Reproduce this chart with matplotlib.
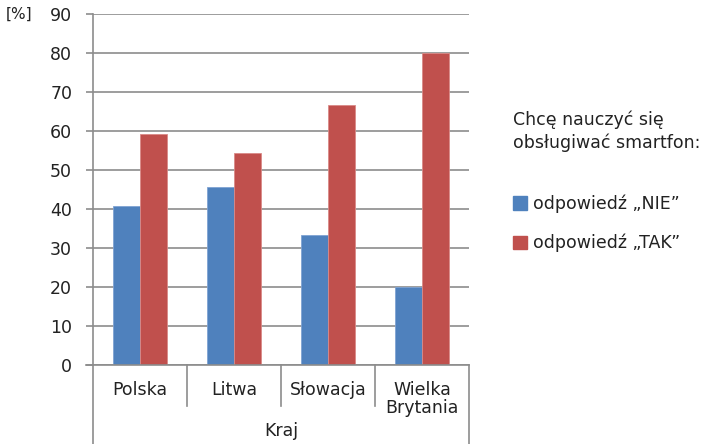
import numpy as np
import matplotlib
matplotlib.use('Agg')
import matplotlib.pyplot as plt
import matplotlib.transforms as mtransforms
from matplotlib.patches import Patch

# --- data ---
countries = ['Polska', 'Litwa', 'Słowacja', 'Wielka\nBrytania']
nie = [40.7, 45.6, 33.3, 20.0]
tak = [59.3, 54.4, 66.7, 80.0]
yticks = [0, 10, 20, 30, 40, 50, 60, 70, 80, 90]

blue = '#4F81BD'
red = '#C0504D'
grey = '#8C8C8C'

plt.rcParams['font.family'] = ['DejaVu Sans']
plt.rcParams['font.size'] = 12.5

fig = plt.figure(figsize=(7.06, 4.44), dpi=100)
ax = fig.add_axes([93 / 706, 1 - 365 / 444, 376 / 706, 351 / 444])

x = np.arange(len(countries))
w = 2 / 7
ax.bar(x - w / 2, nie, w, color=blue, edgecolor='#7FA3D3', linewidth=0.6, zorder=3)
ax.bar(x + w / 2, tak, w, color=red, edgecolor='#DA8A88', linewidth=0.6, zorder=3)

ax.set_xlim(-0.5, len(countries) - 0.5)
ax.set_ylim(0, 90)
ax.set_yticks(yticks)
ax.yaxis.grid(True, color=grey, linewidth=1.2, zorder=0)
ax.tick_params(axis='y', length=5, width=1.2, color=grey, pad=10, labelcolor='#222222')
ax.set_xticks([])
for s in ['top', 'right', 'bottom']:
    ax.spines[s].set_visible(False)
ax.spines['left'].set_color(grey)
ax.spines['left'].set_linewidth(1.2)

# category axis drawn by hand (two-level axis)
trans = mtransforms.blended_transform_factory(ax.transData, ax.transAxes)
ax.plot([-0.5 - 0.075, len(countries) - 0.5], [0, 0], transform=trans, color=grey,
        linewidth=1.2, clip_on=False, zorder=4)
for b in [0.5, 1.5, 2.5]:
    ax.plot([b, b], [0, -0.117], transform=trans, color=grey, linewidth=1.2, clip_on=False)
for b in [-0.5, len(countries) - 0.5]:
    ax.plot([b, b], [0, -0.3], transform=trans, color=grey, linewidth=1.2, clip_on=False)
for i, c in enumerate(countries):
    ax.text(i, -0.045, c, transform=trans, ha='center', va='top', color='#222222',
            linespacing=1.05)
ax.text(0.5, -0.188, 'Kraj', transform=ax.transAxes, ha='center', va='center', color='#222222')

fig.text(6 / 706, 1 - 14 / 444, '[%]', ha='left', va='center', fontsize=11, color='#222222')

fig.text(513 / 706, 1 - 131 / 444, 'Chcę nauczyć się\nobsługiwać smartfon:', ha='left',
         va='center', color='#222222', linespacing=1.3)
handles = [Patch(color=blue), Patch(color=red)]
leg = fig.legend(handles, ['odpowiedź „NIE”', 'odpowiedź „TAK”'], loc='upper left',
                 bbox_to_anchor=(497 / 706, 1 - 179 / 444), frameon=False,
                 handlelength=0.8, handleheight=0.8, handletextpad=0.4, labelspacing=1.2)
for t in leg.get_texts():
    t.set_color('#222222')

fig.savefig('out.png', dpi=100)
